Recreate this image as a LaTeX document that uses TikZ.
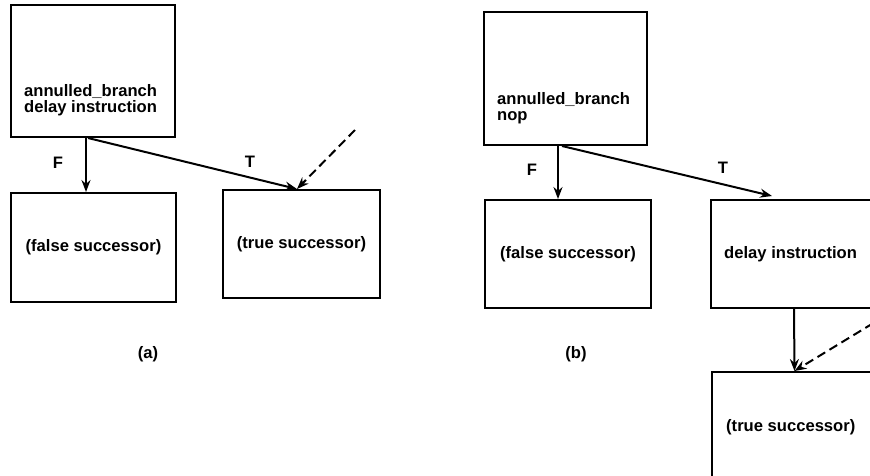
\documentclass[tikz,border=0pt]{standalone}
\usepackage{fontspec}
\setmainfont{Liberation Sans}
\usetikzlibrary{arrows.meta}
\begin{document}
\begin{tikzpicture}[x=1pt,y=-1pt,
  every node/.style={font=\bfseries\fontsize{16.6}{16}\selectfont},
  blk/.style={draw,line width=2pt,rectangle,inner sep=0pt},
  txt/.style={inner sep=0pt,align=left,anchor=west},
  arr/.style={line width=2pt,-{Stealth[length=12pt,width=9pt,inset=4pt]}},
  darr/.style={arr,dash pattern=on 9pt off 5pt}]
\useasboundingbox (0,0) rectangle (870,475);
\clip (0,0) rectangle (870,475);

% (a) annulled branch with the delay instruction in the branch block
\node[blk,minimum width=164pt,minimum height=132pt] (a1) at (93,71) {};
\node[txt] (a1t) at (24,100) {annulled\_branch\\delay instruction};
\node[blk,minimum width=165pt,minimum height=109pt] (af) at (93.5,247.5) {(false successor)};
\node[blk,minimum width=157pt,minimum height=108pt] (at) at (301.5,244) {(true successor)};
\coordinate (ain) at (355,130);
\draw[arr] ([xshift=-7pt]a1.south) -- ([xshift=-7pt]a1.south |- af.north);
\draw[arr] ([xshift=-5pt]a1.south) -- ([xshift=-4.5pt]at.north);
\draw[darr] (ain) -- ([xshift=-4.5pt]at.north);
\node (aF) at (58,163) {F};
\node (aT) at (250,162) {T};
\node (acap) at (148,354) {(a)};

% (b) delay instruction moved into the taken path
\node[blk,minimum width=163pt,minimum height=133pt] (b1) at (565.5,78.5) {};
\node[txt] (b1t) at (497,108) {annulled\_branch\\nop};
\node[blk,minimum width=166pt,minimum height=108pt] (bf) at (568,254) {(false successor)};
\node[blk,minimum width=179pt,minimum height=108pt] (bd) at (800.5,254) {};
\node[txt] (bdt) at (724,254) {delay instruction};
\node[blk,minimum width=178pt,minimum height=118pt] (bt) at (801,431) {};
\node[txt] (btt) at (726,427) {(true successor)};
\coordinate (bin) at (885,316);
\draw[arr] ([xshift=-7.5pt]b1.south) -- ([xshift=-7.5pt]b1.south |- bf.north);
\draw[arr] ([xshift=-3.5pt]b1.south) -- ([xshift=-28.5pt,yshift=3pt]bd.north);
\draw[arr] ([xshift=-6.5pt]bd.south) -- ([xshift=-6.5pt]bt.north);
\draw[darr] (bin) -- ([xshift=-6.5pt]bt.north);
\node (bF) at (532,170) {F};
\node (bT) at (723,168) {T};
\node (bcap) at (576,354) {(b)};
\end{tikzpicture}
\end{document}
